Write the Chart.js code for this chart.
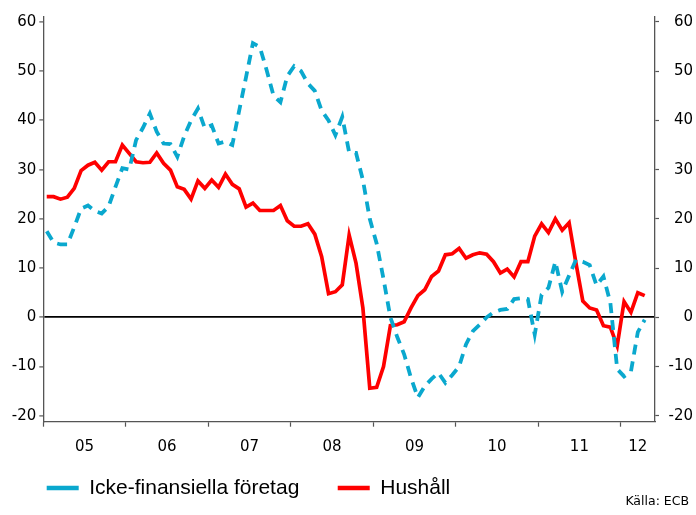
<!DOCTYPE html>
<html lang="sv">
<head>
<meta charset="utf-8">
<title>Utlåning</title>
<script src="https://cdn.jsdelivr.net/npm/chart.js@4.4.1/dist/chart.umd.min.js"></script>
<style>
    html, body { margin: 0; padding: 0; background: #fff; }
    canvas { display: block; }
</style>
</head>
<body>
<canvas id="lanChart" width="696" height="515"></canvas>
<script>
// Årlig procentuell förändring, månadsdata jan 2005 - apr 2012
const yearLabels = ["05", "06", "07", "08", "09", "10", "11", "12"];
const monthsShown = 89; // jan 2005 t.o.m. maj 2012 på x-axeln

const icke = [
    17.5, 15.2, 14.8, 14.8, 18.3, 22.1, 22.7, 21.6, 21.1, 22.5, 26.5, 30.3,
    30.0, 36.0, 38.5, 41.4, 37.7, 35.3, 35.2, 32.6, 36.8, 40.0, 42.4, 38.4,
    39.0, 35.3, 35.7, 35.0, 42.0, 48.8, 55.7, 54.9, 50.2, 45.0, 43.7, 49.0,
    51.0, 50.0, 47.5, 46.0, 42.0, 40.0, 37.0, 40.7, 33.5, 33.4, 27.9, 20.0,
    15.0, 7.8, 0.0, -4.0, -7.5, -12.3, -16.3, -14.0, -12.5, -11.3, -13.3, -11.7,
    -10.0, -5.5, -2.8, -1.5, 0.0, 1.0, 1.5, 1.7, 3.7, 3.9, 3.7, -3.5,
    4.6, 6.0, 11.3, 5.2, 8.5, 11.7, 11.3, 10.6, 6.5, 8.3, 3.0, -10.5,
    -12.0, -11.0, -3.0, -0.5
];

const hushall = [
    24.5, 24.5, 24.0, 24.4, 26.2, 29.8, 30.9, 31.5, 29.9, 31.6, 31.6, 35.0,
    33.3, 31.6, 31.4, 31.5, 33.4, 31.3, 29.9, 26.5, 26.0, 24.0, 27.7, 26.2,
    27.9, 26.4, 29.1, 27.0, 26.1, 22.4, 23.2, 21.7, 21.7, 21.7, 22.7, 19.6,
    18.5, 18.5, 19.0, 16.9, 12.3, 4.8, 5.2, 6.6, 16.7, 11.0, 1.9, -14.4,
    -14.2, -10.0, -1.7, -1.5, -0.9, 1.9, 4.4, 5.6, 8.3, 9.4, 12.7, 12.9,
    14.0, 12.0, 12.7, 13.1, 12.8, 11.3, 9.0, 9.8, 8.2, 11.3, 11.3, 16.5,
    19.0, 17.2, 20.0, 17.7, 19.2, 11.0, 3.3, 1.9, 1.5, -1.7, -2.0, -5.8,
    3.2, 1.0, 5.0, 4.4
];

const yTicks = [-20, -10, 0, 10, 20, 30, 40, 50, 60];

document.addEventListener("DOMContentLoaded", function () {
    const ctx = document.getElementById("lanChart").getContext("2d");

    const tickFont = { family: "DejaVu Sans", size: 15 };
    const axisColor = "#555";

    // årsgränser får streck, årsmitten får etikett
    const yearStarts = yearLabels.map((_, k) => k * 12);
    const yearMids = yearLabels.map((_, k) => (k * 12 + Math.min(k * 12 + 12, monthsShown)) / 2);

    const toPoints = (arr) => arr.map((v, i) => ({ x: i + 0.5, y: v }));

    new Chart(ctx, {
        type: "line",
        data: {
            datasets: [
                {
                    label: "Icke-finansiella företag",
                    data: toPoints(icke),
                    borderColor: "#0aa8ce",
                    borderWidth: 3.8,
                    borderDash: [10, 7],
                    pointRadius: 0,
                    tension: 0,
                    fill: false,
                },
                {
                    label: "Hushåll",
                    data: toPoints(hushall),
                    borderColor: "#ff0000",
                    borderWidth: 3.7,
                    pointRadius: 0,
                    tension: 0,
                    fill: false,
                },
            ],
        },
        options: {
            responsive: false,
            animation: false,
            devicePixelRatio: 1,
            layout: { padding: { top: 17, left: 0, right: 3, bottom: 0 } },
            plugins: {
                tooltip: { enabled: false },
                legend: {
                    position: "bottom",
                    align: "start",
                    fullSize: false,
                    labels: {
                        usePointStyle: true,
                        pointStyleWidth: 32,
                        padding: 3.4,
                        color: "#000",
                        font: { family: "Liberation Sans", size: 21 },
                        generateLabels(chart) {
                            const items = Chart.defaults.plugins.legend.labels.generateLabels(chart);
                            items.forEach((it, i) => {
                                it.pointStyle = "line";
                                it.lineWidth = 4.5;
                                if (it.lineDash && it.lineDash.length) it.lineDash = [10, 11];
                                // luft mellan posterna
                                if (i < items.length - 1) it.text = it.text + "      ";
                            });
                            return items;
                        },
                    },
                },
                title: {
                    display: true,
                    text: "Källa: ECB ",
                    position: "bottom",
                    align: "end",
                    color: "#000",
                    font: { family: "DejaVu Sans", size: 12.5, weight: "normal" },
                    padding: { top: -14.5, bottom: 6 },
                },
            },
            scales: {
                x: {
                    type: "linear",
                    min: 0,
                    max: monthsShown,
                    afterBuildTicks: (scale) => {
                        scale.ticks = [...yearStarts, ...yearMids]
                            .sort((a, b) => a - b)
                            .map((v) => ({ value: v }));
                    },
                    afterFit: (scale) => { scale.height = 52.4; },
                    ticks: {
                        autoSkip: false,
                        maxRotation: 0,
                        padding: 11,
                        color: "#000",
                        font: tickFont,
                        callback: (value) => {
                            const k = yearMids.indexOf(value);
                            return k >= 0 ? yearLabels[k] : "";
                        },
                    },
                    grid: {
                        drawOnChartArea: false,
                        tickLength: 5,
                        tickWidth: 1.2,
                        tickColor: (c) => (c.tick && yearStarts.includes(c.tick.value) ? axisColor : "rgba(0,0,0,0)"),
                    },
                    border: { color: axisColor, width: 1.3 },
                },
                y: {
                    position: "left",
                    min: -21.2,
                    max: 61,
                    afterBuildTicks: (scale) => { scale.ticks = yTicks.map((v) => ({ value: v })); },
                    afterFit: (scale) => { scale.width = 43.3; },
                    ticks: { padding: 3, color: "#000", font: tickFont },
                    grid: {
                        drawOnChartArea: true,
                        color: (c) => (c.tick && c.tick.value === 0 ? "#000" : "rgba(0,0,0,0)"),
                        lineWidth: 1.8,
                        tickLength: 4,
                        tickWidth: 1.2,
                        tickColor: axisColor,
                    },
                    border: { color: axisColor, width: 1.3 },
                },
                y2: {
                    position: "right",
                    min: -21.2,
                    max: 61,
                    afterBuildTicks: (scale) => { scale.ticks = yTicks.map((v) => ({ value: v })); },
                    afterFit: (scale) => { scale.width = 38; },
                    ticks: { padding: 3, crossAlign: "far", color: "#000", font: tickFont },
                    grid: {
                        drawOnChartArea: false,
                        tickLength: 4,
                        tickWidth: 1.2,
                        tickColor: axisColor,
                    },
                    border: { color: axisColor, width: 1.3 },
                },
            },
        },
    });
});
</script>
</body>
</html>
